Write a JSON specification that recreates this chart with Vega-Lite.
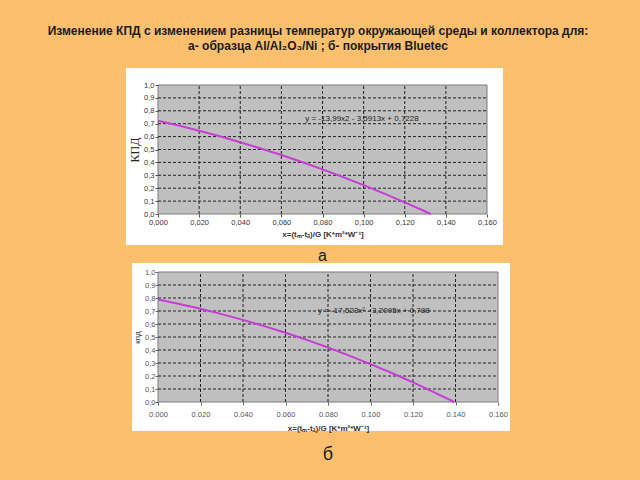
{
  "$schema": "https://vega.github.io/schema/vega-lite/v6.json",
  "background": "#fcbf6e",
  "padding": {"left": 47, "top": 24, "right": 60, "bottom": 40},
  "title": {
    "text": ["Изменение КПД с изменением разницы температур окружающей среды и коллектора для:", "а- образца Al/Al₂O₃/Ni ; б- покрытия Bluetec"],
    "font": "Liberation Sans", "fontSize": 12, "fontWeight": "bold", "color": "#1a1a1a",
    "lineHeight": 15, "offset": 15, "anchor": "middle"
  },
  "datasets": {
    "curveA": [
      {"x": 0.00, "y": 0.7228}, {"x": 0.01, "y": 0.6855}, {"x": 0.02, "y": 0.6454},
      {"x": 0.03, "y": 0.6025}, {"x": 0.04, "y": 0.5568}, {"x": 0.05, "y": 0.5083},
      {"x": 0.06, "y": 0.4570}, {"x": 0.07, "y": 0.4029}, {"x": 0.08, "y": 0.3460},
      {"x": 0.09, "y": 0.2863}, {"x": 0.10, "y": 0.2238}, {"x": 0.11, "y": 0.1585},
      {"x": 0.12, "y": 0.0904}, {"x": 0.13, "y": 0.0195}, {"x": 0.1327, "y": 0.0}
    ],
    "curveB": [
      {"x": 0.00, "y": 0.7880}, {"x": 0.01, "y": 0.7542}, {"x": 0.02, "y": 0.7168},
      {"x": 0.03, "y": 0.6759}, {"x": 0.04, "y": 0.6316}, {"x": 0.05, "y": 0.5837},
      {"x": 0.06, "y": 0.5323}, {"x": 0.07, "y": 0.4775}, {"x": 0.08, "y": 0.4191},
      {"x": 0.09, "y": 0.3572}, {"x": 0.10, "y": 0.2918}, {"x": 0.11, "y": 0.2229},
      {"x": 0.12, "y": 0.1505}, {"x": 0.13, "y": 0.0746}, {"x": 0.1394, "y": 0.0}
    ],
    "one": [{"panel": 1}],
    "gridX": [{"g": 0.02}, {"g": 0.04}, {"g": 0.06}, {"g": 0.08}, {"g": 0.10}, {"g": 0.12}, {"g": 0.14}],
    "gridY": [{"g": 0.1}, {"g": 0.2}, {"g": 0.3}, {"g": 0.4}, {"g": 0.5}, {"g": 0.6}, {"g": 0.7}, {"g": 0.8}, {"g": 0.9}]
  },
  "spacing": -1,
  "config": {
    "view": {"stroke": null},
    "axis": {"labelFont": "Liberation Sans", "titleFont": "Liberation Sans", "labelOverlap": false, "labelSeparation": 0, "labelBound": false}
  },
  "vconcat": [
    {
      "width": 329, "height": 129,
      "title": {"text": "а", "orient": "bottom", "anchor": "middle", "font": "Liberation Sans", "fontSize": 16, "fontWeight": "normal", "color": "#1a1a1a", "offset": 3},
      "layer": [
        {
          "data": {"name": "one"},
          "mark": {"type": "rect", "fill": "white"},
          "encoding": {
            "x": {"datum": -0.01556, "type": "quantitative", "scale": {"domain": [0, 0.16], "nice": false, "zero": false}},
            "x2": {"datum": 0.16778},
            "y": {"datum": -0.2403, "type": "quantitative", "scale": {"domain": [0, 1], "nice": false, "zero": false}},
            "y2": {"datum": 1.1318}
          }
        },
        {
          "data": {"name": "one"},
          "mark": {"type": "rect", "fill": "#c0c0c0", "stroke": "#7a7a7a", "strokeWidth": 1},
          "encoding": {
            "x": {"datum": 0, "type": "quantitative"},
            "x2": {"datum": 0.16},
            "y": {"datum": 0, "type": "quantitative"},
            "y2": {"datum": 1}
          }
        },
        {
          "data": {"name": "gridX"},
          "mark": {"type": "rule", "color": "#222", "strokeWidth": 1, "strokeDash": [3, 2]},
          "encoding": {
            "x": {"field": "g", "type": "quantitative"},
            "y": {"datum": 0, "type": "quantitative"},
            "y2": {"datum": 1}
          }
        },
        {
          "data": {"name": "gridY"},
          "mark": {"type": "rule", "color": "#222", "strokeWidth": 1, "strokeDash": [3, 2]},
          "encoding": {
            "y": {"field": "g", "type": "quantitative"},
            "x": {"datum": 0, "type": "quantitative"},
            "x2": {"datum": 0.16}
          }
        },
        {
          "data": {"name": "curveA"},
          "mark": {"type": "line", "color": "#c83cd6", "strokeWidth": 2},
          "encoding": {
            "x": {"field": "x", "type": "quantitative",
              "axis": {"orient": "bottom", "grid": false, "domain": false, "zindex": 2, "values": [0, 0.02, 0.04, 0.06, 0.08, 0.1, 0.12, 0.14, 0.16], "tickCount": 9,
                "labelExpr": "replace(format(datum.value, '.3f'), '.', ',')", "labelFontSize": 7.5, "labelColor": "#333",
                "ticks": true, "tickSize": 3, "tickColor": "#555", "labelPadding": 1, "labelFlush": false, "labelOverlap": false,
                "title": "x=(tₘ-tₐ)/G [K*m²*W⁻¹]", "titleFontSize": 8, "titleFontWeight": "bold", "titleColor": "#333", "titlePadding": 5}},
            "y": {"field": "y", "type": "quantitative",
              "axis": {"orient": "left", "grid": false, "domain": false, "zindex": 2, "values": [0, 0.1, 0.2, 0.3, 0.4, 0.5, 0.6, 0.7, 0.8, 0.9, 1], "tickCount": 11,
                "labelExpr": "replace(format(datum.value, '.1f'), '.', ',')", "labelFontSize": 7.5, "labelColor": "#333",
                "ticks": true, "tickSize": 3, "tickColor": "#555", "labelPadding": 1, "labelFlush": false, "labelOverlap": false,
                "title": "КПД", "titleFont": "Liberation Serif", "titleFontSize": 12, "titleFontWeight": "normal", "titleColor": "#222", "titlePadding": 2}}
          }
        },
        {
          "data": {"values": [{"x": 0.0992, "y": 0.736, "label": "y = -13,99x2 - 3,5913x + 0,7228"}]},
          "mark": {"type": "text", "font": "Liberation Sans", "fontSize": 8, "color": "#222", "align": "center", "baseline": "middle"},
          "encoding": {
            "x": {"field": "x", "type": "quantitative"},
            "y": {"field": "y", "type": "quantitative"},
            "text": {"field": "label"}
          }
        }
      ]
    },
    {
      "width": 340, "height": 130,
      "title": {"text": "б", "orient": "bottom", "anchor": "middle", "font": "Liberation Sans", "fontSize": 18, "fontWeight": "normal", "color": "#1a1a1a", "offset": 13},
      "layer": [
        {
          "data": {"name": "one"},
          "mark": {"type": "rect", "fill": "white"},
          "encoding": {
            "x": {"datum": -0.012235, "type": "quantitative", "scale": {"domain": [0, 0.16], "nice": false, "zero": false}},
            "x2": {"datum": 0.16565},
            "y": {"datum": -0.2231, "type": "quantitative", "scale": {"domain": [0, 1], "nice": false, "zero": false}},
            "y2": {"datum": 1.0692}
          }
        },
        {
          "data": {"name": "one"},
          "mark": {"type": "rect", "fill": "#c0c0c0", "stroke": "#7a7a7a", "strokeWidth": 1},
          "encoding": {
            "x": {"datum": 0, "type": "quantitative"},
            "x2": {"datum": 0.16},
            "y": {"datum": 0, "type": "quantitative"},
            "y2": {"datum": 1}
          }
        },
        {
          "data": {"name": "gridX"},
          "mark": {"type": "rule", "color": "#222", "strokeWidth": 1, "strokeDash": [3, 2]},
          "encoding": {
            "x": {"field": "g", "type": "quantitative"},
            "y": {"datum": 0, "type": "quantitative"},
            "y2": {"datum": 1}
          }
        },
        {
          "data": {"name": "gridY"},
          "mark": {"type": "rule", "color": "#222", "strokeWidth": 1, "strokeDash": [3, 2]},
          "encoding": {
            "y": {"field": "g", "type": "quantitative"},
            "x": {"datum": 0, "type": "quantitative"},
            "x2": {"datum": 0.16}
          }
        },
        {
          "data": {"name": "curveB"},
          "mark": {"type": "line", "color": "#c83cd6", "strokeWidth": 2},
          "encoding": {
            "x": {"field": "x", "type": "quantitative",
              "axis": {"orient": "bottom", "grid": false, "domain": false, "zindex": 2, "values": [0, 0.02, 0.04, 0.06, 0.08, 0.1, 0.12, 0.14, 0.16], "tickCount": 9,
                "format": ".3f", "labelFontSize": 7.5, "labelColor": "#555", "labelFlush": false, "labelOverlap": false,
                "ticks": true, "tickSize": 3, "tickColor": "#666", "labelPadding": 5,
                "title": "x=(tₘ-tₐ)/G [K*m²*W⁻¹]", "titleFontSize": 8, "titleFontWeight": "bold", "titleColor": "#333", "titlePadding": 7}},
            "y": {"field": "y", "type": "quantitative",
              "axis": {"orient": "left", "grid": false, "domain": false, "zindex": 2, "values": [0, 0.1, 0.2, 0.3, 0.4, 0.5, 0.6, 0.7, 0.8, 0.9, 1], "tickCount": 11,
                "labelExpr": "replace(format(datum.value, '.1f'), '.', ',')", "labelFontSize": 7.5, "labelColor": "#555", "labelFlush": false, "labelOverlap": false,
                "ticks": true, "tickSize": 3, "tickColor": "#666", "labelPadding": 0,
                "title": "кпд", "titleFontSize": 8, "titleFontWeight": "normal", "titleColor": "#333", "titlePadding": 3}}
          }
        },
        {
          "data": {"values": [{"x": 0.1016, "y": 0.70, "label": "y = -17,523x² - 3,2095x + 0,788"}]},
          "mark": {"type": "text", "font": "Liberation Sans", "fontSize": 8, "color": "#222", "align": "center", "baseline": "middle"},
          "encoding": {
            "x": {"field": "x", "type": "quantitative"},
            "y": {"field": "y", "type": "quantitative"},
            "text": {"field": "label"}
          }
        }
      ]
    }
  ]
}
